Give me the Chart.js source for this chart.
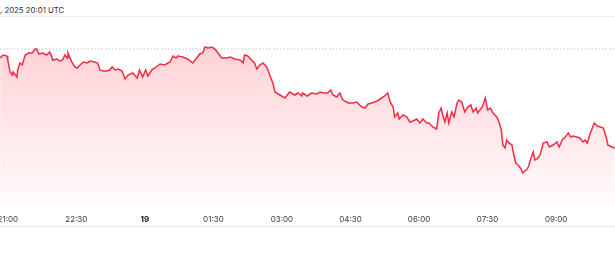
<!DOCTYPE html>
<html>
<head>
<meta charset="utf-8">
<script src="https://cdn.jsdelivr.net/npm/chart.js"></script>
<style>
  body { margin: 0; background: #fff; font-family: Inter, "Noto Sans", sans-serif; }
  .cabecera { position: absolute; left: 0; top: 0; width: 615px; height: 16px; border-bottom: 1px solid #ececec; }
  .cabecera span { position: absolute; left: 0; top: 5px; font-size: 7.8px; line-height: 10px; color: #333; }
  .grafico { position: absolute; left: 0; top: 17px; width: 615px; height: 209px; border-bottom: 1px solid #ececec; }
</style>
</head>
<body>
<div class="cabecera"><span>, 2025 20:01 UTC</span></div>
<div class="grafico"><canvas id="chart-grafico"></canvas></div>
<script>
// minutos desde las 21:00 del dia 18
const minutos = [
  -10, -6, -1, 0, 3, 6, 7, 9, 12, 13,
  16, 19, 20, 23, 27, 32, 36, 38, 41, 46,
  51, 55, 58, 59, 65, 68, 72, 75, 78, 79,
  84, 88, 91, 95, 99, 104, 108, 114, 118, 121,
  125, 130, 134, 137, 141, 145, 150, 154, 158, 164,
  170, 173, 177, 181, 184, 189, 193, 200, 206, 213,
  217, 221, 223, 230, 236, 243, 248, 252, 256, 259,
  263, 268, 272, 276, 281, 288, 292, 298, 305, 309,
  311, 315, 320, 324, 327, 331, 335, 340, 344, 348,
  351, 355, 364, 370, 377, 381, 386, 387, 393, 399,
  406, 410, 414, 420, 424, 427, 432, 436, 440, 447,
  453, 458, 465, 469, 473, 478, 485, 491, 495, 499,
  502, 506, 508, 512, 514, 519, 524, 528, 532, 537,
  541, 545, 550, 553, 558, 563, 566, 569, 571, 574,
  577, 579, 583, 586, 590, 592, 596, 600, 604, 608,
  611, 615, 617, 623, 627, 630, 634, 637, 642, 645,
  648, 650, 653, 655, 658, 662, 663, 667, 670, 674,
  676, 682, 684, 687, 690, 692, 695, 699, 703, 708,
  711, 716, 721, 724, 728, 732, 736, 739, 742, 747,
  751, 755, 758, 761, 764, 768, 770, 774, 778, 782,
  786, 788, 793, 797
];

const precios = [
  3091, 3094, 3093, 3089, 3077, 3074, 3077, 3075, 3072, 3079,
  3086, 3084, 3087, 3094, 3096, 3096, 3100, 3100, 3095, 3096,
  3094, 3097, 3092, 3089, 3090, 3088, 3089, 3094, 3091, 3096,
  3087, 3082, 3081, 3084, 3087, 3086, 3088, 3087, 3086, 3079,
  3078, 3078, 3079, 3082, 3079, 3080, 3078, 3070, 3074, 3076,
  3071, 3079, 3072, 3079, 3073, 3079, 3081, 3085, 3084, 3087,
  3093, 3091, 3093, 3092, 3090, 3086, 3091, 3095, 3096, 3102,
  3101, 3102, 3100, 3096, 3091, 3091, 3092, 3090, 3089, 3086,
  3094, 3093, 3089, 3086, 3080, 3084, 3086, 3082, 3074, 3066,
  3057, 3055, 3051, 3057, 3054, 3056, 3053, 3056, 3053, 3056,
  3055, 3057, 3056, 3056, 3059, 3054, 3052, 3056, 3049, 3046,
  3046, 3047, 3042, 3041, 3045, 3046, 3048, 3051, 3053, 3056,
  3047, 3042, 3032, 3036, 3030, 3034, 3032, 3027, 3028, 3030,
  3026, 3030, 3026, 3026, 3022, 3020, 3036, 3041, 3034, 3027,
  3036, 3026, 3037, 3032, 3046, 3049, 3047, 3037, 3042, 3044,
  3037, 3041, 3036, 3042, 3051, 3039, 3041, 3036, 3032, 3027,
  3019, 3004, 3001, 3009, 3006, 3004, 2999, 2986, 2984, 2980,
  2976, 2980, 2983, 2991, 2997, 2989, 2990, 2994, 3006, 3007,
  3002, 3004, 3007, 3002, 3009, 3012, 3016, 3012, 3013, 3012,
  3011, 3007, 3009, 3006, 3014, 3022, 3026, 3023, 3022, 3021,
  3011, 3004, 3002, 3001
];

const cierreAnterior = 3100;

const marcas = [0, 90, 180, 270, 360, 450, 540, 630, 720];
const etiquetas = ['21:00', '22:30', '19', '01:30', '03:00', '04:30', '06:00', '07:30', '09:00'];

const xMin = -10.2;
const xMax = 797.3;

const serie = minutos.map((m, i) => ({ x: m, y: precios[i] }));

const ctx = document.getElementById('chart-grafico');
new Chart(ctx, {
    type: 'line',
    data: {
        datasets: [
            {
                label: 'Precio',
                data: serie,
                borderColor: 'rgb(240, 45, 68)',
                borderWidth: 1.5,
                pointRadius: 0,
                tension: 0,
                fill: 'start',
                backgroundColor: (c) => {
                    const area = c.chart.chartArea;
                    if (!area) return 'rgba(255, 60, 80, 0.15)';
                    const g = c.chart.ctx.createLinearGradient(0, area.top, 0, area.bottom);
                    g.addColorStop(0, 'rgba(255, 60, 80, 0.27)');
                    g.addColorStop(1, 'rgba(255, 60, 80, 0.02)');
                    return g;
                }
            },
            {
                label: 'Cierre anterior',
                data: [{ x: xMin, y: cierreAnterior }, { x: xMax, y: cierreAnterior }],
                borderColor: '#c4c4c4',
                borderWidth: 1,
                borderDash: [1.5, 2],
                pointRadius: 0,
                fill: false
            }
        ]
    },
    options: {
        responsive: true,
        maintainAspectRatio: false,
        animation: false,
        layout: { autoPadding: false, padding: { top: 0, bottom: 3, left: 0, right: 0 } },
        plugins: { legend: { display: false }, tooltip: { enabled: false } },
        scales: {
            x: {
                type: 'linear',
                min: xMin,
                max: xMax,
                afterBuildTicks: (scale) => { scale.ticks = marcas.map(v => ({ value: v })); },
                afterFit: (scale) => { scale.paddingLeft = 0; scale.paddingRight = 0; scale.height = 18; },
                grid: { display: false, drawTicks: false },
                border: { display: false },
                ticks: {
                    padding: 10,
                    maxRotation: 0,
                    autoSkip: false,
                    color: (c) => c.tick && c.tick.value === 180 ? '#111' : '#3a3a3a',
                    font: (c) => ({ family: 'Inter', size: 8, weight: c.tick && c.tick.value === 180 ? 'bold' : 'normal' }),
                    callback: (v) => etiquetas[marcas.indexOf(v)]
                }
            },
            y: {
                display: false,
                min: 2944,
                max: 3132
            }
        }
    }
});
</script>
</body>
</html>
